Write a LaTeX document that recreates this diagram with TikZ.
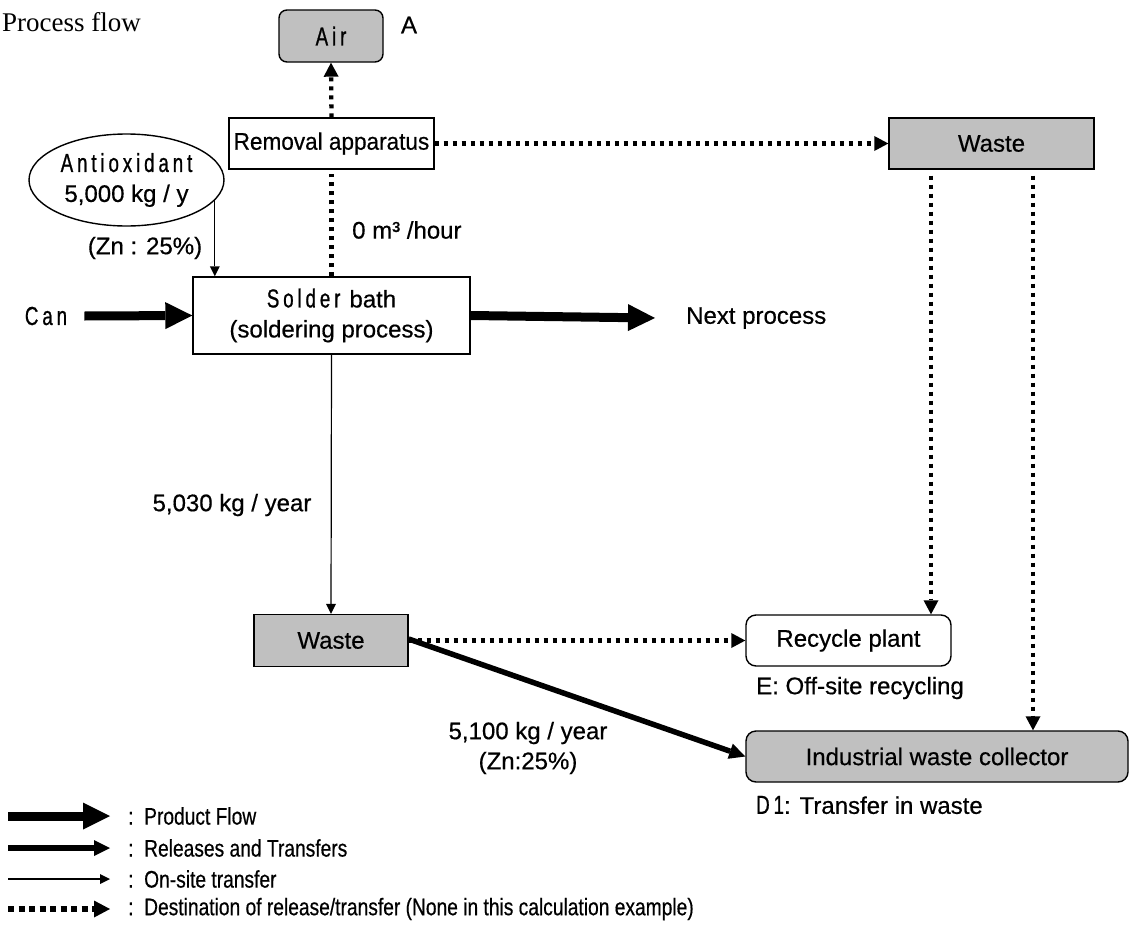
\documentclass[tikz,border=0pt]{standalone}
\usepackage{fontspec}
\setmainfont{Liberation Sans}[FakeBold=0.5]
\newfontfamily\spc{Liberation Sans}[FakeStretch=0.72,LetterSpace=15,FakeBold=0.8]
\newfontfamily\legf{Liberation Sans}[FakeStretch=0.8,FakeBold=0.5]
\newfontfamily\cnd{Liberation Sans}[FakeStretch=0.94,FakeBold=0.5]
\newfontfamily\serifp{Liberation Serif}
\usetikzlibrary{arrows.meta,shapes.geometric,calc}
\definecolor{boxgray}{HTML}{C0C0C0}
\tikzset{
  bx/.style={draw=black, line width=1.4pt, inner sep=0pt, align=center},
  gbx/.style={bx, fill=boxgray},
  lbl/.style={inner sep=0pt, align=center},
  prod/.style={line width=9pt, -{Triangle[length=27pt,width=27pt,line width=0pt]}},
  rel/.style={line width=5.5pt, -{Triangle[length=16pt,width=16pt,line width=0pt]}},
  ons/.style={line width=1.2pt, -{Triangle[length=10pt,width=10pt,line width=0pt]}},
  dots/.style={line width=4.3pt, dash pattern=on 4pt off 5pt},
  dotarr/.style={dots, -{Triangle[length=14pt,width=15pt,line width=0pt]}},
  legdots/.style={line width=6pt, dash pattern=on 6pt off 4.5pt, -{Triangle[length=16pt,width=17pt,line width=0pt]}},
  legtxt/.style={inner sep=0pt, anchor=west, font=\legf\fontsize{24pt}{26pt}\selectfont}
}
\newcommand{\sptxt}[1]{{\spc\fontsize{26pt}{30pt}\selectfont #1}}
\begin{document}
\begin{tikzpicture}[x=1pt,y=-1pt,font=\fontsize{24pt}{30pt}\selectfont]
\useasboundingbox (0,0) rectangle (1130,926);

\node[anchor=base west, inner sep=0pt, font=\serifp\fontsize{27pt}{30pt}\selectfont] (title) at (2,31) {Process flow};

\node[gbx, rounded corners=8pt, minimum width=104pt, minimum height=52pt] (air) at (331,36) {\sptxt{Air}};
\node[lbl] (alab) at (409,25) {A};
\node[bx, minimum width=205pt, minimum height=51pt, font=\cnd\fontsize{24pt}{30pt}\selectfont] (removal) at (331.5,143.5) {Removal apparatus};
\node[ellipse, draw, line width=1.4pt, minimum width=195pt, minimum height=92pt, inner sep=0pt, align=center] (antiox) at (126.5,180) {\sptxt{Antioxidant}\\5,000 kg / y};
\node[lbl] (zn) at (145,248) {(Zn : 25\%)};
\node[bx, minimum width=277pt, minimum height=77pt] (solder) at (331.5,315.5) {\sptxt{Solder}\hspace{9pt}bath\\(soldering process)};
\node[lbl] (can) at (46,316) {\sptxt{Can}};
\node[lbl, anchor=west] (next) at (686,318) {Next process};
\node[lbl, anchor=west] (flow) at (352,230) {0 m³ /hour};
\node[lbl] (q1) at (232,505) {5,030 kg / year};
\node[gbx, minimum width=154pt, minimum height=52pt] (waste2) at (331,640.5) {Waste};
\node[bx, rounded corners=10pt, minimum width=205pt, minimum height=51pt] (recycle) at (848.5,640.5) {Recycle plant};
\node[lbl, anchor=west] (elab) at (756,688) {E: Off-site recycling};
\node[gbx, rounded corners=10pt, minimum width=382pt, minimum height=51pt] (indus) at (937,756.5) {Industrial waste collector};
\node[lbl, anchor=west] (dlab) at (756,805) {\sptxt{D1}: Transfer in waste};
\node[lbl] (q2) at (528,748) {5,100 kg / year\\(Zn:25\%)};
\node[gbx, minimum width=205pt, minimum height=51pt] (waste1) at (991.5,143.5) {Waste};

% connectors
\draw[dotarr] (removal.north) -- (air.south);
\draw[dots, shorten >=4pt] (solder.north) -- (removal.south);
\draw[ons] (antiox.-13.6) -- (antiox.-13.6 |- solder.north);
\draw[prod] ([xshift=17pt]can.east) -- (solder.west);
\draw[prod] (solder.east) -- ([xshift=-31pt]next.west);
\draw[ons] (solder.south) -- (waste2.north);
\draw[dotarr] (removal.east) -- (waste1.west);
\draw[dotarr, shorten <=6pt] ([xshift=-60.5pt]waste1.south) -- ([xshift=-60.5pt]waste1.south |- recycle.north);
\draw[dotarr, shorten <=6pt] ([xshift=41.5pt]waste1.south) -- ([xshift=41.5pt]waste1.south |- indus.north);
\draw[dotarr] (waste2.east) -- (recycle.west);
\draw[rel] ([yshift=1.5pt]waste2.east) -- (indus.west);

% legend
\coordinate (l1a) at (8,816); \coordinate (l1b) at (110,816);
\coordinate (l2a) at (8,848); \coordinate (l2b) at (110,848);
\coordinate (l3a) at (8,879); \coordinate (l3b) at (110,879);
\coordinate (l4a) at (8,909); \coordinate (l4b) at (110,909);
\draw[prod] (l1a) -- (l1b);
\draw[rel] (l2a) -- (l2b);
\draw[ons] (l3a) -- (l3b);
\draw[legdots] (l4a) -- (l4b);
\node[legtxt] (t1) at (128,816) {:\ \ Product Flow};
\node[legtxt] (t2) at (128,848) {:\ \ Releases and Transfers};
\node[legtxt] (t3) at (128,879) {:\ \ On-site transfer};
\node[legtxt] (t4) at (128,909) {:\ \ Destination of release/transfer (None in this calculation example)};
\end{tikzpicture}
\end{document}
